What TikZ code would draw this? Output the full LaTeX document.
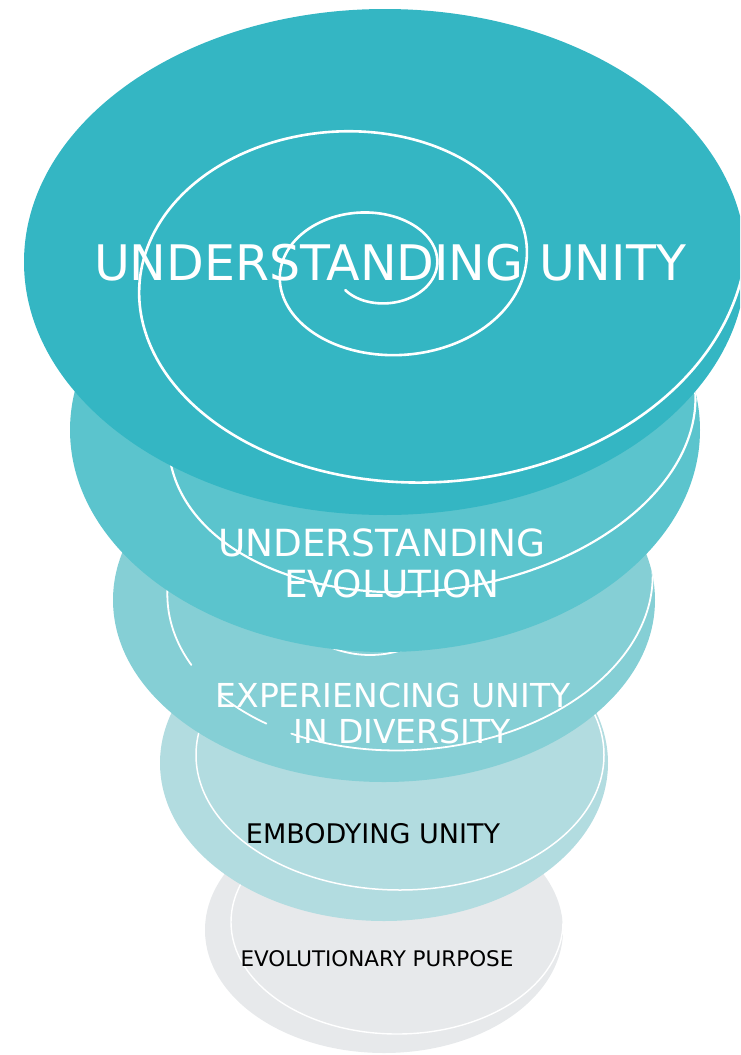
\documentclass[tikz,border=0pt]{standalone}
\usepackage{fontspec}
\setmainfont{DejaVu Sans}
\definecolor{cA}{RGB}{52,182,195}
\definecolor{cB}{RGB}{91,196,205}
\definecolor{cC}{RGB}{133,207,213}
\definecolor{cD}{RGB}{178,220,224}
\definecolor{cE}{RGB}{231,233,235}
\begin{document}
\begin{tikzpicture}[x=1pt,y=-1pt,
  spiral/.style={draw=white, line width=#1, line cap=round, line join=round},
  spiral/.default=2pt,
  lbl/.style={inner sep=0pt, anchor=base},
  lblw/.style={lbl, text=white},
  lblk/.style={lbl, text=black}]
\useasboundingbox (0,0) rectangle (740,1055);
\clip (0,0) rectangle (740,1055);

% ---- disc 5 (bottom)
\fill[cE] (384,930) ellipse [x radius=179pt, y radius=123pt];
\begin{scope}
\clip (384,930) ellipse [x radius=179pt, y radius=123pt];
\draw[spiral=1.4pt] (397,922) ellipse [x radius=166pt, y radius=112pt];
\end{scope}

% ---- disc 4
\fill[cD] (384,763) ellipse [x radius=224pt, y radius=158pt];
\begin{scope}
\clip (384,763) ellipse [x radius=224pt, y radius=158pt];
\draw[spiral=1.5pt] (400,755) ellipse [x radius=204pt, y radius=135pt];
\end{scope}

% ---- disc 3
\fill[cC] (384,600) ellipse [x radius=271pt, y radius=182pt];
\begin{scope}
\clip (384,600) ellipse [x radius=271pt, y radius=182pt];
\draw[spiral=1.8pt] plot[domain=20:160, samples=40, smooth, variable=\t] ({370+100*cos(\t)}, {560+95*sin(\t)});
\draw[spiral=1.8pt] plot[domain=-25:122, samples=80, smooth, variable=\t] ({410+242.4*cos(\t)+11.5*sin(\t)}, {585-17.0*cos(\t)+164.6*sin(\t)});
\draw[spiral=1.8pt] plot[domain=129:144, samples=12, smooth, variable=\t] ({410+242.4*cos(\t)+11.5*sin(\t)}, {585-17.0*cos(\t)+164.6*sin(\t)});
\draw[spiral=1.8pt] plot[domain=157:200, samples=25, smooth, variable=\t] ({410+242.4*cos(\t)+11.5*sin(\t)}, {585-17.0*cos(\t)+164.6*sin(\t)});
\end{scope}

% ---- disc 2
\fill[cB] (385,430) ellipse [x radius=315pt, y radius=222pt];
\begin{scope}
\clip (385,430) ellipse [x radius=315pt, y radius=222pt];
\draw[spiral=2.2pt] plot[domain=0:360, samples=160, smooth, variable=\t] ({432+262.4*cos(\t)+23.66*sin(\t)}, {420-36.9*cos(\t)+168.3*sin(\t)}) -- cycle;
\end{scope}

% ---- disc 1 (top)
\fill[cA] (385,262) ellipse [x radius=361pt, y radius=253pt];
\begin{scope}
\clip (385,262) ellipse [x radius=361pt, y radius=253pt];
\draw[spiral=2.6pt] plot[domain=135:-752, samples=400, smooth, variable=\t] ({376+60.7*exp(-0.002506*\t)*cos(\t)}, {268+43.9*exp(-0.002506*\t)*sin(\t)});
\end{scope}

% ---- labels
\node[lblw, font=\fontsize{49}{58}\selectfont] (t1) at (390,280) {UNDERSTANDING UNITY};
\node[lblw, font=\fontsize{37.4}{44}\selectfont] (t2a) at (382,556) {UNDERSTANDING};
\node[lblw, font=\fontsize{37.4}{44}\selectfont] (t2b) at (392,597) {EVOLUTION};
\node[lblw, font=\fontsize{33}{40}\selectfont] (t3a) at (393,707) {EXPERIENCING UNITY};
\node[lblw, font=\fontsize{33}{40}\selectfont] (t3b) at (402,743) {IN DIVERSITY};
\node[lblk, font=\fontsize{27}{32}\selectfont] (t4) at (373,843) {EMBODYING UNITY};
\node[lblk, font=\fontsize{21.5}{26}\selectfont] (t5) at (377,966) {EVOLUTIONARY PURPOSE};
\end{tikzpicture}
\end{document}
